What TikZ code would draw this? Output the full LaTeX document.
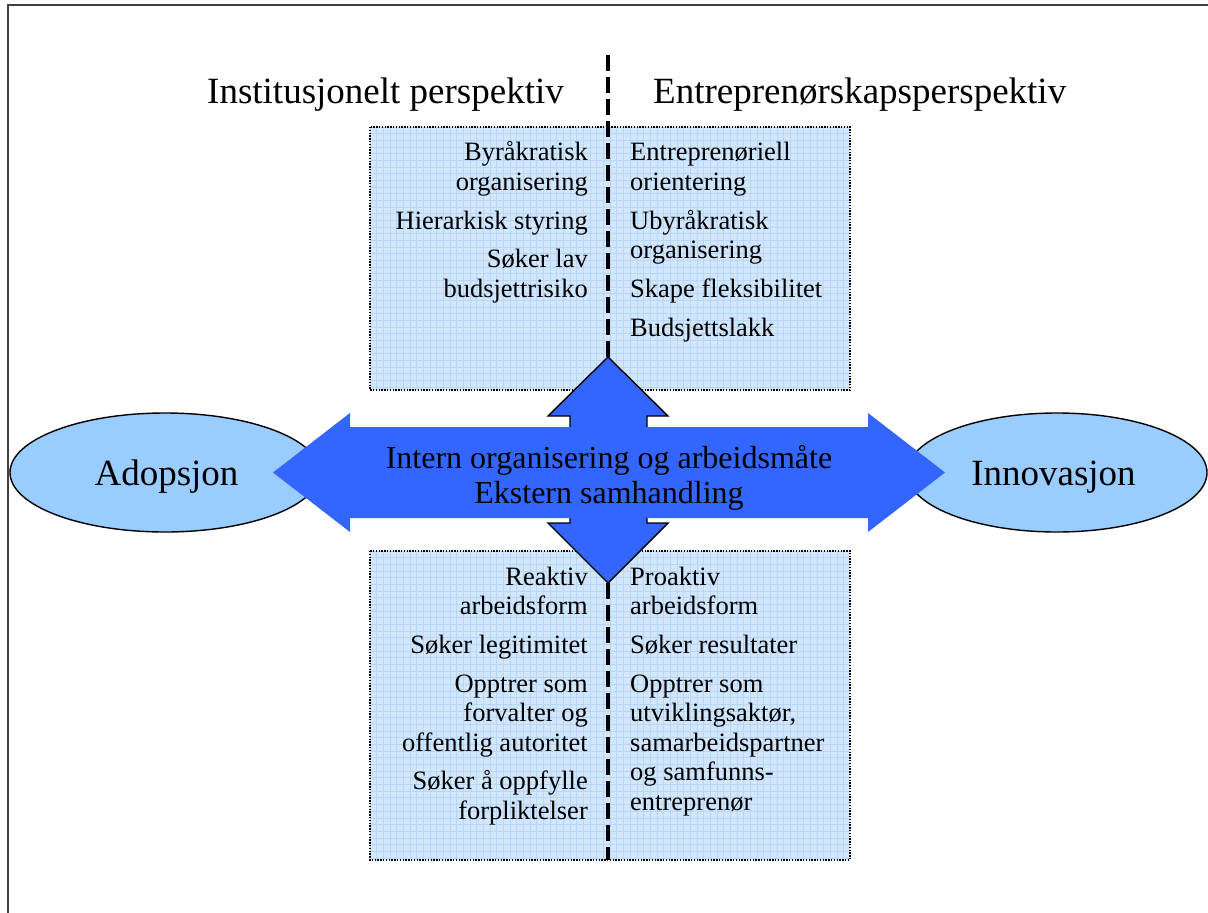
\documentclass[tikz,border=0pt]{standalone}
\usepackage{fontspec}
\setmainfont{Liberation Serif}
\usetikzlibrary{shapes.geometric}

\definecolor{arrowblue}{HTML}{3366FF}
\definecolor{ovalblue}{HTML}{99CCFF}
\definecolor{panelblue}{HTML}{D2E7FE}
\definecolor{gridblue}{HTML}{B6D6FA}
\definecolor{framegrey}{HTML}{404040}

\begin{document}
\begin{tikzpicture}[x=1pt,y=-1pt,
  frameline/.style={draw=framegrey,line width=1.6pt},
  panel/.style={rectangle,fill=panelblue,inner sep=0pt,outer sep=0pt,anchor=north west},
  panelborder/.style={draw=black,line width=1.3pt,dash pattern=on 1.4pt off 1.4pt},
  gridline/.style={draw=gridblue,line width=0.6pt},
  divider/.style={draw=black,line width=3.2pt,dash pattern=on 16pt off 6pt},
  title/.style={inner sep=0pt,font=\fontsize{37}{44}\selectfont},
  itemL/.style={inner sep=0pt,anchor=base east,font=\fontsize{26.5}{29.5}\selectfont},
  itemR/.style={inner sep=0pt,anchor=base west,font=\fontsize{26.5}{29.5}\selectfont},
  oval/.style={ellipse,draw=black,line width=1.4pt,fill=ovalblue,inner sep=0pt},
  ovaltext/.style={inner sep=0pt,anchor=base,font=\fontsize{37}{44}\selectfont},
  vertarrow/.style={fill=arrowblue,draw=black,line width=1.4pt,line join=miter},
  horzarrow/.style={fill=arrowblue},
  midtext/.style={inner sep=0pt,anchor=base,font=\fontsize{32}{35}\selectfont}
]
\useasboundingbox (0,0) rectangle (1208,913);

% outer frame (left and top edges)
\draw[frameline] (8,913) -- (8,5) -- (1208,5);

% panels with fine grid
\node[panel,minimum width=480pt,minimum height=263pt] (toppanel) at (370,127) {};
\node[panel,minimum width=480pt,minimum height=309pt] (botpanel) at (370,551) {};
\begin{scope}
  \clip (370,127) rectangle (850,390);
  \foreach \gx in {0,...,72} \draw[gridline] (370+\gx*6.67,127) -- (370+\gx*6.67,390);
  \foreach \gy in {0,...,40} \draw[gridline] (370,127+\gy*6.67) -- (850,127+\gy*6.67);
\end{scope}
\begin{scope}
  \clip (370,551) rectangle (850,860);
  \foreach \gx in {0,...,72} \draw[gridline] (370+\gx*6.67,551) -- (370+\gx*6.67,860);
  \foreach \gy in {0,...,47} \draw[gridline] (370,551+\gy*6.67) -- (850,551+\gy*6.67);
\end{scope}
\draw[panelborder] (toppanel.north west) rectangle (toppanel.south east);
\draw[panelborder] (botpanel.north west) rectangle (botpanel.south east);

% dashed divider between the two perspectives
\coordinate (divtop) at (608,55);
\coordinate (divbot) at (608,860);
\draw[divider] (divtop) -- (divbot);

% headings
\node[title,anchor=base east] (insttitle) at (564,103) {Institusjonelt perspektiv};
\node[title,anchor=base west] (entrtitle) at (653,103) {Entreprenørskapsperspektiv};

% upper panel items
\foreach \yy/\txt [count=\k] in {160.7/Byråkratisk,190.2/organisering,229/Hierarkisk styring,267.8/Søker lav,297.3/budsjettrisiko}
  \node[itemL] (tl\k) at (588,\yy) {\txt};
\foreach \yy/\txt [count=\k] in {160.7/Entreprenøriell,190.2/orientering,229/Ubyråkratisk,258.5/organisering,297.3/Skape fleksibilitet,336.1/Budsjettslakk}
  \node[itemR] (tr\k) at (630,\yy) {\txt};

% ovals
\node[oval,minimum width=310pt,minimum height=119pt] (adop) at (165,472.5) {};
\node[oval,minimum width=300pt,minimum height=119pt] (innov) at (1057,472.5) {};
\node[ovaltext] (adoptxt) at (166.5,485) {Adopsjon};
\node[ovaltext] (innovtxt) at (1053.5,485) {Innovasjon};

% vertical double arrow
\path[vertarrow] (608,357) -- (668,416) -- (647,416) -- (647,523) -- (668,523)
  -- (608,583) -- (548,523) -- (570,523) -- (570,416) -- (548,416) -- cycle;
% horizontal double arrow
\path[horzarrow] (273,472.5) -- (350,413) -- (350,427) -- (868,427) -- (868,413)
  -- (945,472.5) -- (868,532) -- (868,518) -- (350,518) -- (350,532) -- cycle;

\node[midtext] (mid1) at (609,468.3) {Intern organisering og arbeidsmåte};
\node[midtext] (mid2) at (609,503.3) {Ekstern samhandling};

% lower panel items
\foreach \yy/\txt [count=\k] in {585/Reaktiv,614.5/arbeidsform,653.3/Søker legitimitet,692.1/Opptrer som,721.6/forvalter og,751.1/offentlig autoritet,789.9/Søker å oppfylle,819.4/forpliktelser}
  \node[itemL] (bl\k) at (588,\yy) {\txt};
\foreach \yy/\txt [count=\k] in {585/Proaktiv,614.5/arbeidsform,653.3/Søker resultater,692.1/Opptrer som,721.6/{utviklingsaktør,},751.1/samarbeidspartner,780.6/og samfunns-,810.1/entreprenør}
  \node[itemR] (br\k) at (630,\yy) {\txt};
\end{tikzpicture}
\end{document}
